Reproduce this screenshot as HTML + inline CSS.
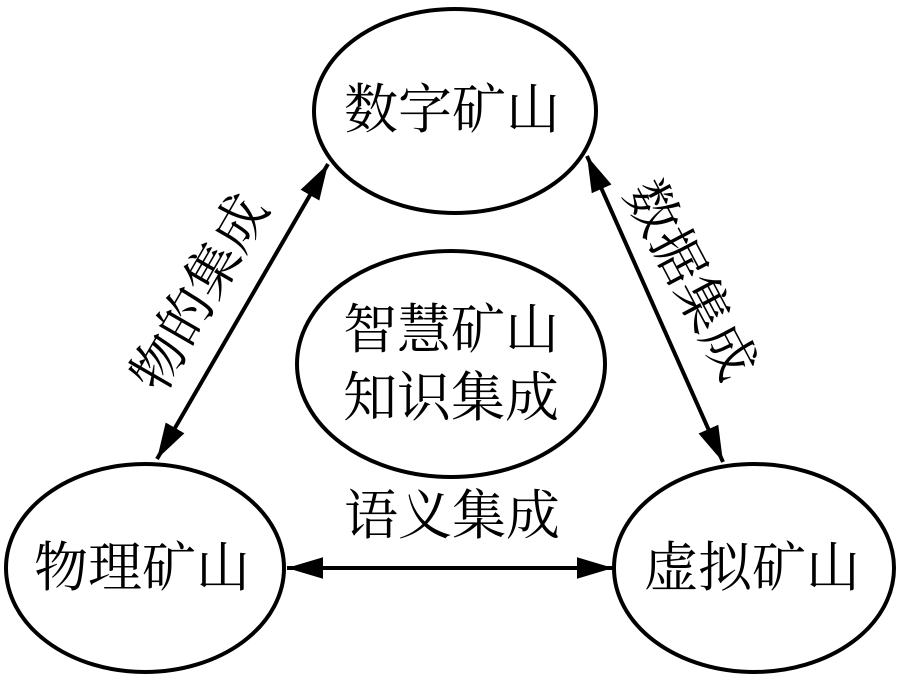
<!DOCTYPE html>
<html><head><meta charset="utf-8"><style>
html,body{margin:0;padding:0;background:#fff;}
text{font-family:"Liberation Serif","Noto Serif CJK SC",serif;fill:#000;}
</style></head><body>
<svg width="897" height="675" viewBox="0 0 897 675" xmlns="http://www.w3.org/2000/svg">
<defs>
<marker id="a" viewBox="0 0 10 10" refX="10" refY="5" markerWidth="9" markerHeight="9" orient="auto-start-reverse" markerUnits="strokeWidth">
<path d="M0,2 L10,5 L0,8 z" fill="#000"/>
</marker>
</defs>
<g fill="none" stroke="#000" stroke-width="4">
<ellipse cx="455" cy="111" rx="141" ry="102"/>
<ellipse cx="451" cy="364" rx="154" ry="113"/>
<ellipse cx="145" cy="568" rx="139" ry="104"/>
<ellipse cx="754" cy="568" rx="140" ry="104"/>
</g>
<g stroke="#000" stroke-width="4" fill="none">
<line x1="328" y1="164" x2="157" y2="459" marker-start="url(#a)" marker-end="url(#a)"/>
<line x1="587" y1="156" x2="723" y2="462" marker-start="url(#a)" marker-end="url(#a)"/>
<line x1="287" y1="568" x2="613" y2="568" marker-start="url(#a)" marker-end="url(#a)"/>
</g>
<g font-size="54" text-anchor="middle" dominant-baseline="central">
<text x="452" y="110">数字矿山</text>
<text x="451" y="330">智慧矿山</text>
<text x="451" y="398">知识集成</text>
<text x="142" y="568">物理矿山</text>
<text x="752" y="568">虚拟矿山</text>
<text x="452" y="516">语义集成</text>
<text x="200" y="293" font-size="54" transform="rotate(-60 200 293)">物的集成</text>
<text x="690" y="280" font-size="54" transform="rotate(62 690 280)">数据集成</text>
</g>
</svg>
</body></html>
